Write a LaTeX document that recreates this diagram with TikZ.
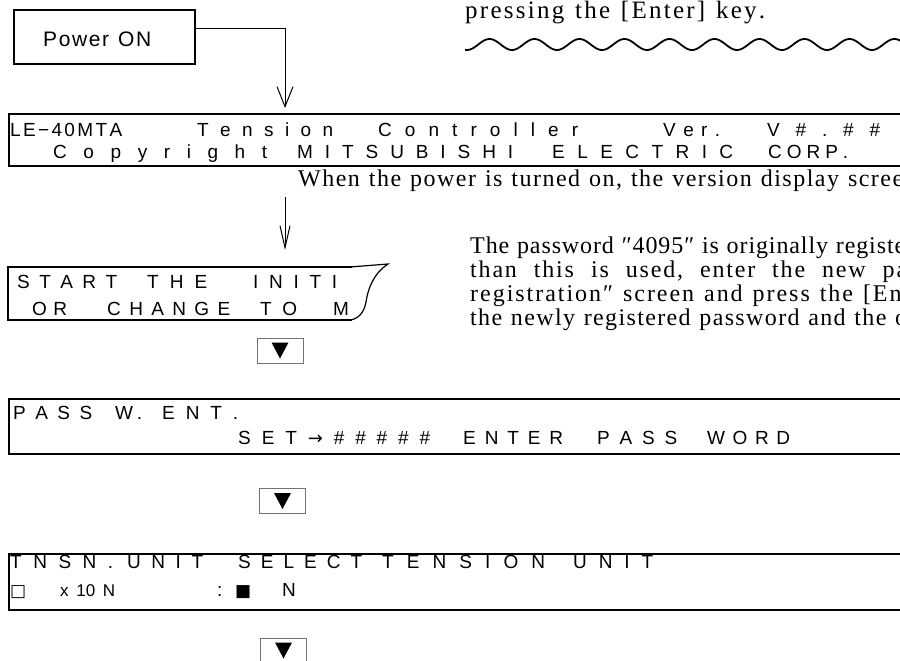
\documentclass[tikz,border=0pt]{standalone}
\usepackage{fontspec}
\setmainfont{Liberation Serif}
\newfontfamily\lcdfont{Liberation Sans}
\newfontfamily\symfont{DejaVu Sans}
\usetikzlibrary{arrows.meta}
% spread characters evenly over a given width (spaces written as ~)
\def\spreadw#1#2{\makebox[#1][s]{\spreadi#2\relax\unskip}}
\def\spreadi#1{\ifx#1\relax\else#1\hfil\expandafter\spreadi\fi}
\def\W{\hskip 0.25em plus 4fil}
\def\rarr{{\symfont\fontsize{18}{18}\selectfont →}}
\tikzset{
  lcdbox/.style={draw, line width=2.2pt, inner sep=0pt, anchor=north west},
  lcdtxt/.style={font=\lcdfont\fontsize{19}{20}\selectfont, inner sep=0pt, anchor=base west},
  symtxt/.style={font=\symfont\fontsize{17}{18}\selectfont, inner sep=0pt, anchor=base west},
  sertxt/.style={font=\fontsize{24}{26}\selectfont, inner sep=0pt, anchor=base west},
  tribox/.style={draw=black!55, line width=0.9pt, minimum width=46pt, minimum height=25pt, inner sep=0pt,
    path picture={\fill ([xshift=-8.5pt,yshift=8pt]path picture bounding box.center) -- ++(17pt,0pt) -- ++(-8.5pt,-16pt) -- cycle;}},
  conn/.style={line width=1pt, -{Straight Barb[length=20pt,width=16pt]}},
  conn2/.style={line width=1pt, -{Straight Barb[length=22pt,width=10pt]}},
}
\begin{document}
\begin{tikzpicture}[x=1pt,y=-1pt]
\path[use as bounding box] (0,0) rectangle (900,661);
\clip (0,0) rectangle (900,661);

% ---- top right note
\node[sertxt, font=\fontsize{25}{27}\selectfont] (press) at (465,19) {\spreadw{300pt}{pressing~the~[Enter]~key.}};
\draw[line width=1.8pt] plot[domain=465:905, samples=300, smooth] (\x, {44.5+5.5*cos(8*(\x-467))});

% ---- Power ON
\node[draw, line width=1.8pt, minimum width=181pt, minimum height=54pt, anchor=north west] (power) at (13,9) {};
\node[lcdtxt, font=\lcdfont\fontsize{21}{24}\selectfont] (powertxt) at (43,47) {\spreadw{108pt}{Power~ON}};
\coordinate (a1) at (285,108);
\draw[conn] ([yshift=8pt]power.east) -| (a1);

% ---- version screen
\node[lcdbox, minimum width=904pt, minimum height=52pt] (le) at (8,113) {};
\node[lcdtxt] (le1) at (10,136) {\spreadw{112pt}{LE−40MTA}};
\node[lcdtxt] (le2) at (197,136) {\spreadw{136pt}{Tension}};
\node[lcdtxt] (le3) at (378,136) {\spreadw{200pt}{Controller}};
\node[lcdtxt] (le4) at (663,136) {\spreadw{57pt}{Ver.}};
\node[lcdtxt] (le5) at (767,136) {\spreadw{113pt}{V\#.\#\#}};
\node[lcdtxt] (le6) at (53,158) {\spreadw{214pt}{Copyright}};
\node[lcdtxt] (le7) at (297,158) {\spreadw{216pt}{MITSUBISHI}};
\node[lcdtxt] (le8) at (552,158) {\spreadw{181pt}{ELECTRIC}};
\node[lcdtxt] (le9) at (768,158) {\spreadw{80pt}{CORP.}};

\node[sertxt] (when) at (298,186) {\spreadw{605pt}{When~the~power~is~turned~on,~the~version~display~scree}};
\coordinate (a2s) at (285,197);
\coordinate (a2e) at (285,250);
\draw[conn2] (a2s) -- (a2e);

% ---- start screen (torn box)
\draw[line width=2.4pt] (352,267) -- (8,267) -- (8,320) -- (352,320);
\draw[line width=1.2pt] (350,267) -- (388,264) .. controls (373,274) and (368,289) .. (366,302) .. controls (364,313) and (358,319) .. (350,320);
\node[lcdtxt] (s1) at (17,288) {\spreadw{100pt}{START}};
\node[lcdtxt] (s2) at (147,288) {\spreadw{60pt}{THE}};
\node[lcdtxt] (s3) at (253,288) {\spreadw{84pt}{INITI}};
\node[lcdtxt] (s4) at (32,315) {\spreadw{35pt}{OR}};
\node[lcdtxt] (s5) at (107,315) {\spreadw{123pt}{CHANGE}};
\node[lcdtxt] (s6) at (260,315) {\spreadw{37pt}{TO}};
\node[lcdtxt] (s7) at (333,315) {M};

% ---- password note
\node[sertxt] (p1) at (470,253) {\spreadw{435pt}{The~password~″4095″~is~originally~registe}};
\node[sertxt] (p2) at (470,277) {\spreadw{437pt}{than\W this\W is\W used,\W enter\W the\W new\W pa}};
\node[sertxt] (p3) at (470,301) {\spreadw{440pt}{registration″~screen~and~press~the~[Ent}};
\node[sertxt] (p4) at (470,325) {\spreadw{437pt}{the~newly~registered~password~and~the~o}};

\node[tribox] (k1) at (280,350.5) {};

% ---- PASS W. ENT.
\node[lcdbox, minimum width=904pt, minimum height=55pt] (pw) at (8,398) {};
\node[lcdtxt] (w1) at (13,419) {\spreadw{79pt}{PASS}};
\node[lcdtxt] (w2) at (115,419) {\spreadw{27pt}{W.}};
\node[lcdtxt] (w3) at (162,419) {\spreadw{76pt}{ENT.}};
\node[lcdtxt] (w4) at (238,444) {\spreadw{192pt}{SET\rarr\#\#\#\#\#}};
\node[lcdtxt] (w5) at (463,444) {\spreadw{100pt}{ENTER}};
\node[lcdtxt] (w6) at (597,444) {\spreadw{80pt}{PASS}};
\node[lcdtxt] (w7) at (707,444) {\spreadw{83pt}{WORD}};

\node[tribox] (k2) at (282.5,501) {};

% ---- TNSN. UNIT
\node[lcdbox, minimum width=904pt, minimum height=56pt] (tn) at (8,553) {};
\node[lcdtxt] (n1) at (10,568) {\spreadw{103pt}{TNSN.}};
\node[lcdtxt] (n2) at (127,568) {\spreadw{76pt}{UNIT}};
\node[lcdtxt] (n3) at (238,568) {\spreadw{124pt}{SELECT}};
\node[lcdtxt] (n4) at (382,568) {\spreadw{163pt}{TENSION}};
\node[lcdtxt] (n5) at (573,568) {\spreadw{80pt}{UNIT}};
\node[symtxt] (n6) at (10,596) {□};
\node[lcdtxt, font=\lcdfont\fontsize{17}{18}\selectfont] (n7) at (60,596) {\makebox[55pt][s]{x\hfil 10\hfil N}};
\node[lcdtxt] (n8) at (217,596) {:};
\node[symtxt] (n9) at (235,596) {■};
\node[lcdtxt] (n10) at (282,596) {N};

\node[tribox] (k3) at (283.5,650.5) {};
\end{tikzpicture}
\end{document}
